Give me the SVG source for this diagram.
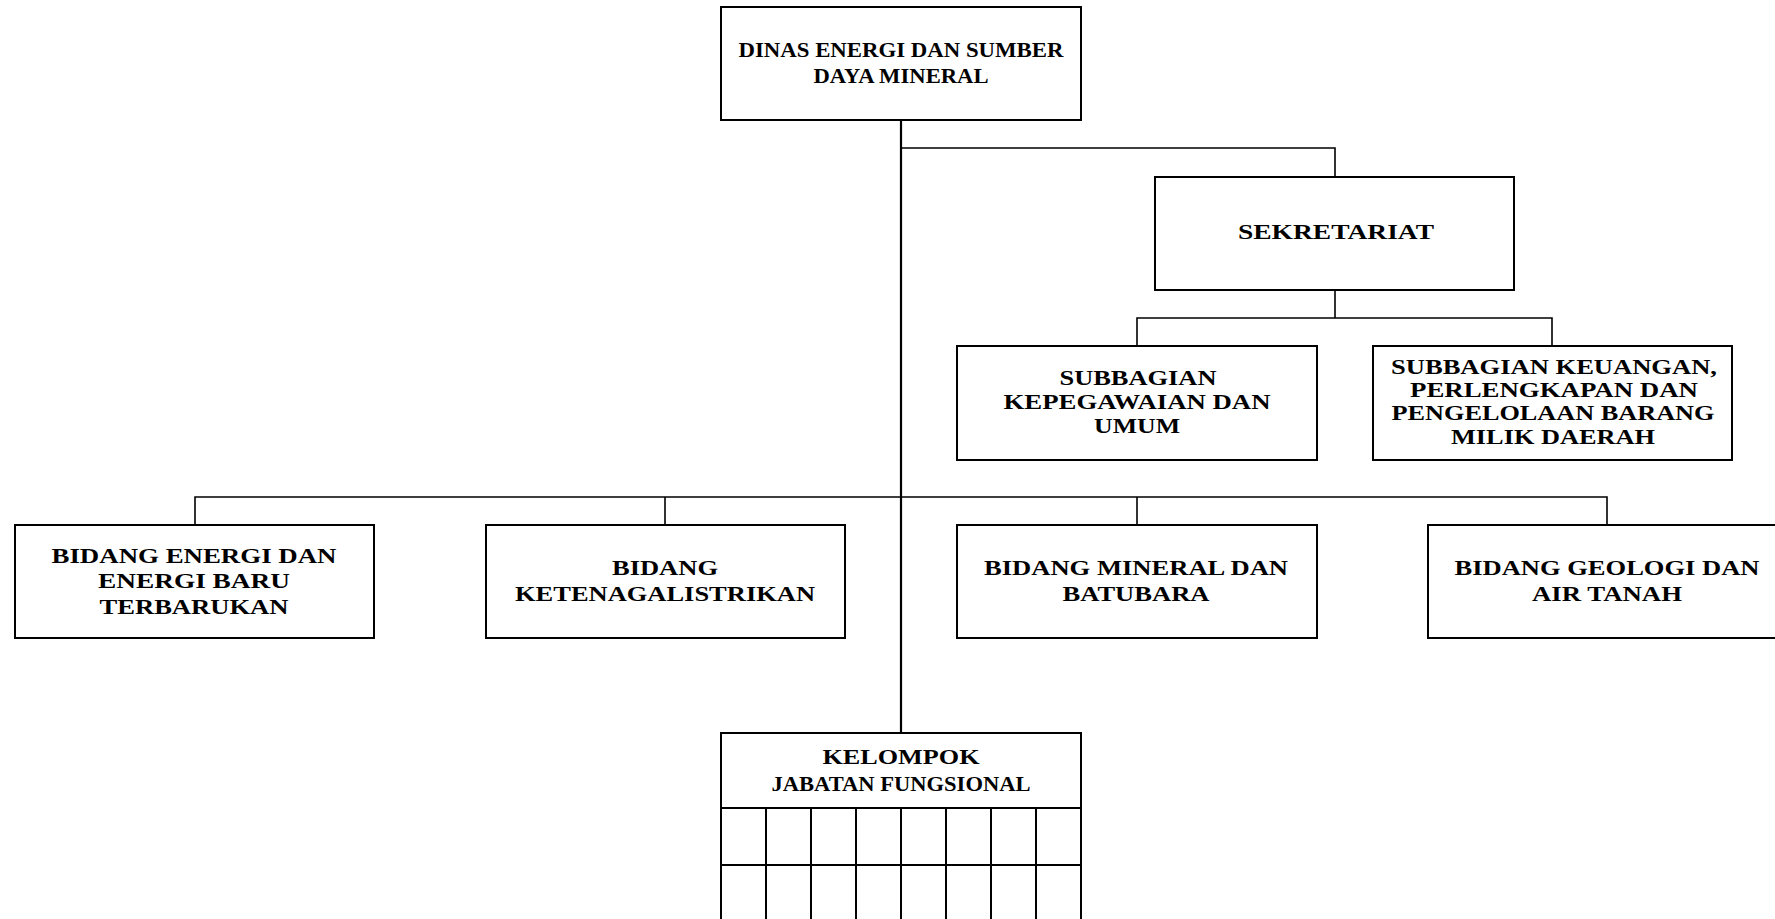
<svg xmlns="http://www.w3.org/2000/svg" width="1775" height="919" viewBox="0 0 1775 919">
<style>
.box{fill:#fff;stroke:#000;stroke-width:2}
.ln{fill:none;stroke:#000;stroke-width:1.6}
.trunk{fill:none;stroke:#000;stroke-width:2.2}
.grid{fill:none;stroke:#000;stroke-width:2}
text{font-family:"Liberation Serif","DejaVu Serif",serif;font-weight:bold;font-size:21px;fill:#000;text-anchor:middle}
</style>
<rect width="1775" height="919" fill="#fff"/>
<g id="connectors">
<path class="trunk" d="M901 120V733"/>
<path class="ln" d="M901 148H1335V177"/>
<path class="ln" d="M1335 290V318M1137 346V318H1552V346"/>
<path class="ln" d="M195 525V497H1607V525M665 497V525M1137 497V525"/>
</g>
<g id="dinas">
<rect class="box" x="721" y="7" width="360" height="113"/>
<text x="901" y="57" textLength="325" lengthAdjust="spacingAndGlyphs">DINAS ENERGI DAN SUMBER</text>
<text x="901" y="83" textLength="175" lengthAdjust="spacingAndGlyphs">DAYA MINERAL</text>
</g>
<g id="sekretariat">
<rect class="box" x="1155" y="177" width="359" height="113"/>
<text x="1336" y="239" textLength="196" lengthAdjust="spacingAndGlyphs">SEKRETARIAT</text>
</g>
<g id="subbag-kepegawaian">
<rect class="box" x="957" y="346" width="360" height="114"/>
<text x="1138" y="385" textLength="157" lengthAdjust="spacingAndGlyphs">SUBBAGIAN</text>
<text x="1137" y="409" textLength="267" lengthAdjust="spacingAndGlyphs">KEPEGAWAIAN DAN</text>
<text x="1137" y="433" textLength="86" lengthAdjust="spacingAndGlyphs">UMUM</text>
</g>
<g id="subbag-keuangan">
<rect class="box" x="1373" y="346" width="359" height="114"/>
<text x="1554" y="374" textLength="326" lengthAdjust="spacingAndGlyphs">SUBBAGIAN KEUANGAN,</text>
<text x="1554" y="397" textLength="288" lengthAdjust="spacingAndGlyphs">PERLENGKAPAN DAN</text>
<text x="1553" y="420" textLength="323" lengthAdjust="spacingAndGlyphs">PENGELOLAAN BARANG</text>
<text x="1553" y="444" textLength="204" lengthAdjust="spacingAndGlyphs">MILIK DAERAH</text>
</g>
<g id="bidang-energi">
<rect class="box" x="15" y="525" width="359" height="113"/>
<text x="194" y="563" textLength="285" lengthAdjust="spacingAndGlyphs">BIDANG ENERGI DAN</text>
<text x="194" y="588" textLength="192" lengthAdjust="spacingAndGlyphs">ENERGI BARU</text>
<text x="194" y="614" textLength="189" lengthAdjust="spacingAndGlyphs">TERBARUKAN</text>
</g>
<g id="bidang-ketenagalistrikan">
<rect class="box" x="486" y="525" width="359" height="113"/>
<text x="665" y="575" textLength="106" lengthAdjust="spacingAndGlyphs">BIDANG</text>
<text x="665" y="601" textLength="300" lengthAdjust="spacingAndGlyphs">KETENAGALISTRIKAN</text>
</g>
<g id="bidang-mineral">
<rect class="box" x="957" y="525" width="360" height="113"/>
<text x="1136" y="575" textLength="304" lengthAdjust="spacingAndGlyphs">BIDANG MINERAL DAN</text>
<text x="1136" y="601" textLength="147" lengthAdjust="spacingAndGlyphs">BATUBARA</text>
</g>
<g id="bidang-geologi">
<rect class="box" x="1428" y="525" width="360" height="113"/>
<text x="1607" y="575" textLength="305" lengthAdjust="spacingAndGlyphs">BIDANG GEOLOGI DAN</text>
<text x="1607" y="601" textLength="150" lengthAdjust="spacingAndGlyphs">AIR TANAH</text>
</g>
<g id="kelompok">
<rect class="box" x="721" y="733" width="360" height="200"/>
<text x="901" y="764" textLength="157" lengthAdjust="spacingAndGlyphs">KELOMPOK</text>
<text x="901" y="791" textLength="259" lengthAdjust="spacingAndGlyphs">JABATAN FUNGSIONAL</text>
<path class="grid" d="M721 808H1081M721 865H1081M766 808V919M811 808V919M856 808V919M901 808V919M946 808V919M991 808V919M1036 808V919"/>
</g>
</svg>
